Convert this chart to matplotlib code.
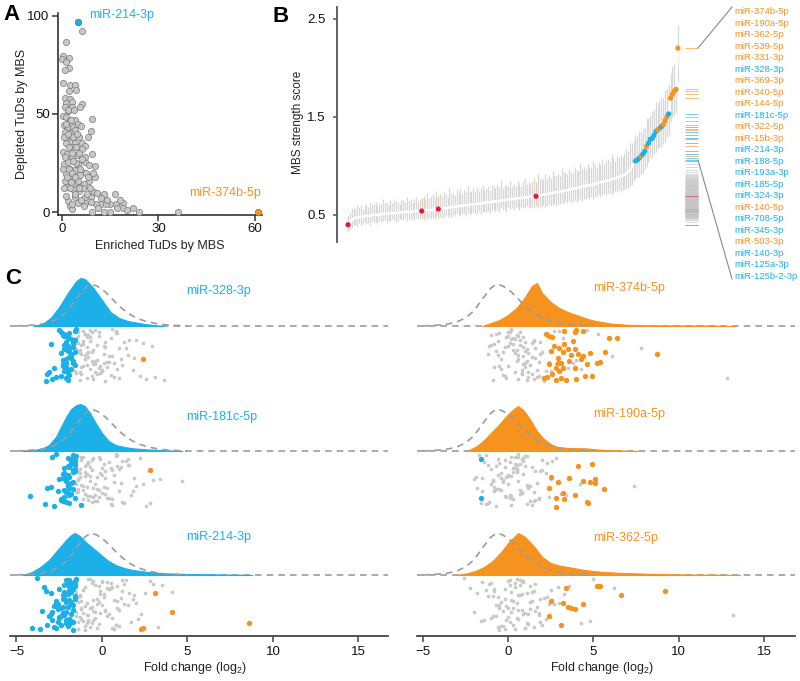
import numpy as np
import matplotlib
matplotlib.use("Agg")
import matplotlib.pyplot as plt
from matplotlib.lines import Line2D

plt.rcParams['font.family'] = ['Liberation Sans', 'DejaVu Sans']
plt.rcParams['mathtext.default'] = 'regular'

BLUE = '#1cb0e8'
ORANGE = '#f6921e'
RED = '#e3174a'
GREY = '#c9c9c9'
DARK = '#333333'
W, H = 800, 681

# ---------------- panel A : TuDs counted per miRNA ----------------
enriched = [6.2, 1.2, 0.3, 2.1, 0.0, 1.4, 2.1, 0.9, 0.3, 2.5,
            4.1, 4.3, 2.1, 0.9, 2.5, 1.4, 3.0, 6.2, 5.7, 3.0,
            0.9, 1.9, 0.3, 1.4, 2.5, 4.1, 9.2, 0.6, 1.9, 3.5,
            0.9, 2.8, 9.1, 4.6, 5.4, 8.1, 1.1, 2.5, 3.9, 6.2,
            7.3, 3.0, 0.3, 1.7, 4.6, 9.2, 3.2, 0.6, 1.9, 5.1,
            7.3, 8.4, 10.3, 2.5, 4.1, 6.2, 1.1, 3.5, 5.7, 10.3,
            8.4, 0.9, 2.8, 4.6, 6.8, 1.7, 3.5, 5.4, 10.0, 11.0,
            13.2, 16.4, 8.9, 7.3, 4.1, 1.9, 4.9, 7.1, 12.1, 14.8,
            16.9, 19.1, 2.5, 10.5, 13.7, 22.1, 3.2, 9.2, 13.2, 15.0,
            19.1, 23.9, 36.0,
            1.2, 2.1, 3.3, 4.2, 5.1, 6.3, 7.2, 0.8, 2.2, 3.1,
            4.3, 5.2, 6.1, 7.4, 8.2, 1.1, 2.9, 3.8, 1.8, 4.8,
            5.9, 0.5, 1.5, 2.6, 3.4, 4.4, 5.6, 6.6, 7.7, 8.6,
            9.6, 0.2, 0.5, 1.1, 3.1, 4.0, 5.0, 6.0, 1.9, 3.2,
            4.1, 5.3, 7.0, 9.1, 11.2, 12.0, 14.1, 17.1, 18.0, 20.2]
depleted = [92.4, 86.7, 79.8, 78.6, 77.8, 76.4, 73.3, 72.4, 65.7, 64.8,
            64.7, 62.2, 61.7, 58.3, 57.4, 55.7, 56.0, 55.3, 53.6, 53.6,
            53.6, 51.4, 49.1, 48.3, 47.1, 46.7, 47.4, 44.5, 43.3, 43.6,
            41.0, 40.2, 41.4, 39.3, 38.1, 38.4, 37.6, 35.9, 35.0, 35.3,
            33.6, 32.9, 30.7, 29.8, 29.0, 29.5, 28.1, 24.7, 25.5, 24.7,
            25.5, 23.8, 23.3, 22.1, 21.6, 20.3, 19.5, 18.6, 19.1, 17.8,
            16.0, 16.0, 15.2, 14.7, 14.3, 12.6, 11.7, 10.9, 10.0, 9.5,
            9.1, 9.1, 7.9, 7.4, 7.4, 5.7, 4.8, 4.8, 4.3, 4.0,
            4.3, 4.8, 3.1, 4.0, 4.3, 2.2, 1.4, 0.2, 0.2, 0.2,
            2.2, 0.2, 0.2,
            35, 33, 38, 42, 45, 32, 28, 28, 22, 20,
            25, 30, 27, 20, 18, 45, 47, 52, 52, 40,
            44, 38, 18, 12, 26, 33, 22, 12, 9, 12,
            20, 22, 12, 8, 4, 9, 16, 6, 40, 30,
            18, 12, 3, 5, 2, 7, 6, 2, 6, 1]
a_blue = (5.1, 97.0)      # miR-214-3p
a_orange = (61.0, 0.0)    # miR-374b-5p

# ---------------- panel B : MBS strength score per miRNA ----------------
mbs_median = [0.40, 0.43, 0.45, 0.46, 0.47, 0.47, 0.48, 0.48, 0.48, 0.49,
              0.49, 0.49, 0.49, 0.50, 0.50, 0.50, 0.50, 0.50, 0.51, 0.51,
              0.51, 0.51, 0.51, 0.52, 0.52, 0.52, 0.52, 0.52, 0.52, 0.53,
              0.53, 0.53, 0.53, 0.53, 0.53, 0.53, 0.54, 0.54, 0.54, 0.54,
              0.54, 0.54, 0.55, 0.55, 0.55, 0.55, 0.55, 0.56, 0.56, 0.56,
              0.56, 0.57, 0.57, 0.57, 0.57, 0.58, 0.58, 0.58, 0.58, 0.59,
              0.59, 0.59, 0.59, 0.60, 0.60, 0.60, 0.60, 0.61, 0.61, 0.61,
              0.61, 0.62, 0.62, 0.62, 0.62, 0.63, 0.63, 0.63, 0.63, 0.64,
              0.64, 0.64, 0.64, 0.65, 0.65, 0.65, 0.65, 0.66, 0.66, 0.66,
              0.66, 0.67, 0.67, 0.67, 0.67, 0.68, 0.68, 0.68, 0.68, 0.69,
              0.69, 0.69, 0.69, 0.70, 0.70, 0.70, 0.71, 0.71, 0.71, 0.72,
              0.72, 0.72, 0.73, 0.73, 0.73, 0.74, 0.74, 0.75, 0.75, 0.75,
              0.76, 0.76, 0.77, 0.77, 0.77, 0.78, 0.78, 0.79, 0.79, 0.80,
              0.80, 0.80, 0.81, 0.81, 0.82, 0.82, 0.83, 0.83, 0.84, 0.84,
              0.85, 0.85, 0.86, 0.86, 0.87, 0.87, 0.88, 0.89, 0.89, 0.90,
              0.91, 0.92, 0.94, 0.96, 0.99, 1.02,
              1.05, 1.06, 1.08, 1.10, 1.12, 1.15, 1.20, 1.23, 1.27, 1.28,
              1.31, 1.35, 1.37, 1.38, 1.40, 1.42, 1.46, 1.50, 1.53, 1.69,
              1.73, 1.76, 1.78, 2.20]
# whisker extents above / below the median, in hundredths
mbs_up = [9, 10, 12, 11, 9, 13, 10, 12, 8, 11, 12, 9, 14, 10, 11, 13, 9, 12, 10, 15,
          11, 12, 9, 13, 10, 14, 12, 11, 9, 13, 12, 10, 15, 11, 13, 9, 12, 14, 10, 12,
          13, 15, 11, 17, 12, 14, 16, 12, 18, 13, 15, 12, 17, 14, 11, 19, 13, 15, 12, 16,
          14, 18, 12, 15, 13, 20, 14, 12, 16, 13, 17, 12, 15, 19, 13, 14, 16, 12, 18, 15,
          13, 17, 14, 21, 12, 16, 15, 13, 19, 14, 16, 12, 18, 15, 13, 17, 20, 14, 16, 13,
          16, 19, 15, 22, 17, 18, 15, 21, 17, 19, 16, 23, 18, 17, 20, 16, 24, 18, 19, 17,
          21, 18, 16, 22, 19, 17, 25, 18, 20, 17, 22, 19, 18, 24, 20, 17, 21, 19, 23, 18,
          20, 22, 19, 26, 21, 18, 23, 20, 22, 19, 22, 25, 21, 27, 24, 23,
          26, 24, 28, 25, 27, 24, 29, 26, 25, 28, 27, 30, 26, 28, 29, 27, 31, 28, 30, 26,
          29, 28, 30, 24]
mbs_down = [6, 7, 8, 6, 7, 9, 6, 8, 7, 6, 8, 7, 9, 6, 8, 7, 9, 6, 8, 7,
            6, 9, 7, 8, 6, 7, 9, 8, 6, 7, 8, 6, 9, 7, 8, 6, 9, 7, 8, 7,
            8, 9, 7, 10, 8, 9, 8, 10, 7, 9, 8, 10, 9, 7, 9, 8, 10, 9, 8, 7,
            9, 10, 8, 9, 11, 8, 9, 10, 8, 9, 10, 8, 11, 9, 8, 10, 9, 11, 8, 9,
            10, 9, 11, 8, 10, 9, 12, 8, 10, 9, 11, 9, 10, 12, 9, 10, 11, 9, 10, 12,
            11, 12, 10, 13, 11, 12, 11, 13, 12, 11, 13, 12, 11, 14, 12, 13, 12, 14, 11, 13,
            12, 14, 13, 12, 14, 13, 12, 15, 13, 14, 12, 14, 13, 15, 13, 14, 12, 15, 14, 13,
            15, 13, 14, 16, 14, 13, 15, 14, 16, 15, 15, 16, 17, 16, 18, 17,
            18, 17, 19, 18, 19, 18, 20, 19, 18, 20, 19, 21, 20, 19, 21, 20, 22, 21, 22, 24,
            23, 25, 24, 34]
red_idx = [0, 40, 49, 102]
top_names = ['miR-374b-5p', 'miR-190a-5p', 'miR-362-5p', 'miR-539-5p', 'miR-331-3p',
             'miR-328-3p', 'miR-369-3p', 'miR-340-5p', 'miR-144-5p', 'miR-181c-5p',
             'miR-322-5p', 'miR-15b-3p', 'miR-214-3p', 'miR-188-5p', 'miR-193a-3p',
             'miR-185-5p', 'miR-324-3p', 'miR-140-5p', 'miR-708-5p', 'miR-345-3p',
             'miR-503-3p', 'miR-140-3p', 'miR-125a-3p', 'miR-125b-2-3p']
top_cats = ['o', 'o', 'o', 'o', 'o', 'b', 'o', 'o', 'o', 'b', 'o', 'o',
            'b', 'b', 'b', 'b', 'b', 'o', 'b', 'b', 'o', 'b', 'b', 'b']

# ---------------- panel C : fold change distributions ----------------
ref_x = [-5.0, -4.5, -4.0, -3.5, -3.0, -2.5, -2.0, -1.5, -1.0, -0.65, -0.3,
         0.2, 0.6, 1.0, 1.5, 2.0, 2.5, 3.0, 3.5, 4.0, 5.0]
ref_y = [0, 0.5, 1, 2, 4, 8, 15, 27, 38, 42, 40, 34, 27, 20, 13, 8, 5, 3, 1.5, 0.8, 0]

jit = [12, 41, 27, 6, 50, 33, 19, 45, 9, 37,
       24, 53, 15, 30, 4, 47, 21, 39, 10, 28,
       51, 17, 35, 8, 44, 26, 13, 49, 31, 5,
       40, 22, 54, 11, 36, 18, 46, 7, 29, 42,
       16, 52, 25, 3, 38, 20, 48, 14, 34, 9,
       43, 23, 55, 6, 32, 18, 47, 12, 27, 39,
       4, 50, 21, 36, 10, 45, 29, 15, 53, 8,
       41, 24, 33, 19, 51, 6, 37, 26, 44, 13,
       30, 48, 17, 40, 7, 35, 22, 54, 11, 28,
       46, 14, 38, 5, 25, 52, 20, 43, 16, 33]
cjit = [8, 30, 47, 15, 38, 22, 52, 5, 27, 43,
        12, 35, 19, 49, 26, 9, 41, 32, 54, 17,
        45, 4, 24, 37, 14, 50, 29, 11, 40, 21,
        53, 7, 33, 46, 18, 28, 55, 10, 36, 25,
        42, 6, 31, 48, 16, 39, 20, 51, 13, 34,
        3, 44, 23, 37, 11, 50, 27, 8, 41, 19,
        47, 14, 32, 5, 39, 24, 53, 17, 29, 45]

# miR-328-3p
m328_cx = [-4.0, -3.5, -3.0, -2.5, -2.0, -1.5, -1.25, -1.0, -0.5, 0.0, 0.5, 1.0, 1.5, 2.0, 2.5, 3.0, 3.6]
m328_cy = [0, 2, 8, 19, 33, 45, 48, 47, 38, 26, 14, 8, 5, 3.5, 2, 1, 0]
m328_grey = [-1.5, -1.2, -0.9, -1.4, -0.6, -1.0, -0.3, -1.6, -0.8, 0.1,
             -1.3, -0.5, -1.1, 0.4, -0.7, -1.5, 0.2, -0.9, -0.2, -1.2,
             0.7, -1.4, -0.4, -1.0, 0.0, -0.6, -1.5, 0.5, -0.8, -1.1,
             -0.1, 1.0, -1.3, -0.7, 0.3, -1.6, -0.4, 0.8, -1.0, -0.2,
             1.3, -0.9, -1.4, 0.6, -0.5, 0.1, -1.2, 1.6, -0.3, -0.8,
             0.9, -1.5, 0.2, -0.6, 1.9, -1.1, -0.1, 0.5, -1.3, 1.2,
             -0.4, 2.2, -0.9, 0.4, -1.4, 0.0, 1.5, -0.7, 2.6, -1.0,
             0.3, -0.5, 1.1, -1.2, 3.1, -0.2, 0.7, -0.8, 1.8, -1.5,
             0.6, -0.3, 2.4, -1.1, 0.9, -0.6, 1.4, 3.6, -0.9, 0.1,
             -1.3, 2.0, -0.4, 0.8, -1.6, 1.0, 2.9, -0.7, 0.2, -1.0]
m328_blue = [-2.2, -1.8, -2.0, -1.7, -2.3, -1.9, -2.1, -1.6, -2.4, -1.8,
             -2.0, -1.7, -2.2, -1.9, -1.6, -2.3, -2.1, -1.8, -2.0, -1.7,
             -2.2, -2.5, -1.9, -2.1, -1.6, -2.4, -1.8, -2.0, -2.3, -1.7,
             -2.9, -1.9, -2.1, -3.1, -3.0, -1.8, -3.3, -2.2, -1.7, -2.0,
             -2.8, -2.4, -1.9, -3.2, -2.1, -1.6, -2.0, -2.7, -1.8, -2.3,
             -1.5, -1.9, -2.2, -1.7, -2.0]
m328_orange = [2.4]
m328_orange_j = [33]

# miR-181c-5p
m181_cx = [-4.6, -4.0, -3.5, -3.1, -2.7, -2.4, -2.1, -1.8, -1.5, -1.28, -1.0,
           -0.7, -0.37, 0.0, 0.4, 0.8, 1.3, 1.8, 2.75, 3.7, 4.7]
m181_cy = [0, 1, 2.5, 6, 14, 24, 34, 42, 46, 47, 45, 38, 28, 18, 10, 6, 4, 2.7, 1.5, 0.7, 0]
m181_grey = [-0.8, -1.4, 0.2, -1.1, -0.3, -1.5, 0.6, -0.9, -1.2, -0.5,
             0.0, -1.3, 0.9, -0.7, -1.5, 0.3, -1.0, -0.2, 1.2, -1.4,
             -0.6, 0.5, -1.1, 1.5, -0.4, -1.3, 0.1, -0.8, 0.7, -1.5,
             1.8, -0.1, -1.2, 0.4, -0.9, 1.0, -0.5, 2.2, -1.4, 0.0,
             -0.7, 1.3, -1.0, 0.8, -0.3, -1.5, 0.6, 1.6, -1.2, -0.6,
             0.2, -0.9, 2.6, -0.2, 1.1, -1.3, 0.4, -0.8, 1.9, -1.1,
             0.9, -0.4, -1.4, 0.1, 1.4, -0.7, 3.0, -1.0, 0.5, -0.1,
             -1.5, 0.7, 2.4, -0.6, 1.2, -1.2, 0.3, -0.3, 1.7, -0.9,
             4.7, -1.1, 0.0, 1.0, -0.5, 2.0, -1.3, 0.6, -0.8, 3.4,
             -0.2, 1.5, -1.4, 0.8, -0.7, 2.8, 0.2, -1.0, 1.1, -0.4]
m181_blue = [-1.8, -2.1, -1.6, -2.0, -1.7, -2.2, -1.9, -1.5, -2.3, -1.8,
             -1.6, -2.0, -1.7, -2.4, -1.9, -1.6, -2.1, -1.8, -1.25, -2.2,
             -4.2, -1.7, -2.0, -1.9, -1.6, -2.3, -2.1, -1.8, -2.6, -1.7,
             -3.35, -2.0, -1.9, -2.2, -1.6, -2.5, -2.8, -1.8, -3.0, -2.1,
             -2.0, -2.9, -1.7, -2.4, -1.9, -2.2, -1.6, -2.1, -1.8, -2.0,
             -2.7, -1.9, -2.3, -3.2, -1.7]
m181_orange = [2.8]
m181_orange_j = [19]

# miR-214-3p
m214_cx = [-4.6, -4.1, -3.6, -3.1, -2.6, -2.1, -1.8, -1.58, -1.3, -0.95, -0.6,
           -0.18, 0.3, 0.8, 1.3, 1.8, 2.7, 3.7, 5.0, 7.0, 8.8]
m214_cy = [0, 3, 8, 15, 25, 35, 40, 42, 39, 33, 28, 22, 15, 10, 7, 5, 3, 1.7, 1, 0.5, 0]
m214_grey = [-1.0, 0.3, -1.4, -0.5, 0.8, -1.2, -0.1, -0.8, 1.3, -1.5,
             -0.3, 0.6, -1.1, 0.0, -0.7, 1.7, -1.3, 0.4, -0.4, -0.9,
             1.0, -1.5, 0.2, -0.6, 2.1, -1.2, 0.5, -0.2, -1.0, 1.4,
             -0.8, 0.1, -1.4, 0.9, -0.5, 2.5, -1.1, 0.3, -0.3, -1.3,
             1.2, -0.7, 0.7, -1.5, -0.1, 1.9, -0.9, 0.4, -1.2, 3.0,
             -0.4, 1.1, -1.0, 0.0, -0.6, 1.6, -1.4, 0.6, -0.2, 2.3,
             -0.8, 0.8, -1.3, 0.2, 3.5, -0.5, 1.3, -1.1, -0.3, 0.5,
             -1.5, 1.8, -0.7, 0.1, -1.0, 2.8, -0.4, 0.9, -1.2, 0.3,
             1.5, -0.6, 4.1, -0.9, 0.0, 1.0, -1.4, 0.7, -0.2, 2.0,
             -0.8, 0.4, -1.1, 1.2, -0.5, 3.3, -1.3, 0.6, -0.1, 0.9]
m214_blue = [-2.0, -1.7, -2.6, -1.9, -2.3, -1.6, -2.8, -2.1, -1.8, -2.5,
             -3.4, -1.7, -2.2, -1.9, -2.7, -1.6, -2.4, -2.0, -3.6, -1.8,
             -2.9, -1.5, -2.3, -2.1, -1.7, -3.2, -2.6, -1.9, -2.2, -1.6,
             -4.1, -2.0, -2.4, -1.8, -3.0, -2.7, -1.7, -2.2, -3.5, -1.9,
             -2.5, -1.6, -2.8, -2.1, -3.3, -1.8, -2.3, -2.0, -1.7, -2.6,
             -3.8, -1.9, -2.2, -2.9, -1.6, -2.4, -2.1, -1.8, -3.1, -2.0,
             -1.7, -2.5, -2.3, -1.9, -3.0, -1.6, -2.7, -2.2, -1.8, -2.1]
m214_orange = [3.1, 4.1, 8.6, 2.3, 2.4]
m214_orange_j = [18, 37, 48, 54, 53]

# miR-374b-5p
m374_cx = [-1.5, -1.0, -0.5, 0.0, 0.5, 1.0, 1.4, 1.7, 2.0, 2.5, 3.0, 3.5, 4.0,
           4.5, 5.0, 5.5, 6.0, 7.0, 8.0, 10.0, 12.0, 13.3]
m374_cy = [0, 3, 6, 11, 18, 29, 40, 43, 33, 24, 18, 14, 11, 8, 5.5, 4, 2.5, 1.2, 0.7, 0.5, 0.4, 0]
m374_grey = [0.3, -0.8, 1.2, 0.0, 1.8, -0.4, 0.7, 2.2, -1.0, 1.0,
             0.5, 1.5, -0.6, 0.9, 0.2, 2.6, -0.2, 1.3, 0.6, -1.2,
             1.7, 0.1, 1.1, -0.7, 0.8, 2.0, 0.4, -0.3, 1.4, 3.0,
             0.0, 1.6, -0.9, 0.9, 2.4, 0.3, 1.2, -0.5, 0.6, 3.5,
             1.9, -0.1, 1.0, 0.2, 2.8, -1.1, 1.4, 0.7, 4.0, 0.5,
             -0.4, 1.1, 2.1, 0.1, 1.6, -0.8, 0.8, 3.2, 0.4, 1.3,
             4.6, -0.2, 0.9, 1.8, 0.0, 2.5, -0.6, 1.5, 0.6, 5.3,
             1.0, 0.3, 2.9, -1.0, 1.2, 0.7, 3.8, -0.3, 1.7, 0.2,
             6.1, 0.8, 1.4, -0.5, 2.3, 0.5, 7.8, 1.1, -0.1, 1.9,
             0.4, 1.5, 0.9, 2.7, -0.7, 12.8, 0.0, 4.3, 1.0, 0.6]
m374_orange = [2.2, 2.4, 2.6, 3.3, 4.0, 4.4, 5.9, 6.4,
               2.5, 3.0, 3.3, 3.2, 3.5, 3.8, 3.9, 4.1, 4.4, 4.8, 5.7, 8.7,
               2.9, 3.1, 3.6, 4.3, 4.6, 5.2, 5.4,
               2.4, 2.8, 3.0, 3.2, 3.9,
               2.1, 2.3, 2.8, 3.1, 3.4, 4.0, 4.5, 4.9,
               2.6, 2.9, 3.7, 2.7, 3.9]
m374_orange_j = [8, 10, 11, 5, 4, 5, 12, 12,
                 25, 22, 18, 26, 23, 15, 23, 28, 30, 27, 26, 28,
                 32, 37, 35, 33, 38, 37, 36,
                 38, 42, 45, 42, 42,
                 52, 51, 54, 52, 54, 53, 50, 50,
                 48, 37, 29, 20, 6]

# miR-190a-5p
m190_cx = [-2.4, -1.8, -1.4, -1.0, -0.6, -0.2, 0.2, 0.58, 0.9, 1.35, 1.7, 2.1,
           2.5, 2.9, 3.5, 4.5, 5.4, 6.4, 7.6]
m190_cy = [0, 5, 11, 18, 25, 33, 40, 45, 41, 30, 20, 12, 7, 4, 3, 2.7, 1.3, 0.6, 0]
m190_grey = [-0.5, 0.8, -1.5, 0.2, 1.5, -1.0, 0.5, -0.2, 2.0, -1.8,
             0.0, 1.1, -0.7, 0.6, -1.3, 1.8, 0.3, -0.4, 0.9, 2.5,
             -1.1, 0.4, 1.3, -0.6, 0.1, -1.9, 0.7, 1.6, -0.3, 1.0,
             -0.8, 2.2, 0.2, -1.4, 1.2, 0.5, -0.1, 2.8, -0.9, 0.8,
             1.4, -1.6, 0.0, 0.6, -0.5, 1.9, 0.3, -1.2, 1.1, -0.2,
             3.1, 0.9, -0.7, 0.4, 1.7, -1.0, 0.1, 2.3, -0.4, 0.7,
             -1.7, 1.3, 0.5, -0.8, 2.6, 0.2, -0.3, 1.0, -1.3, 0.8,
             1.5, -0.6, 0.0, 2.0, -1.1, 0.6, 1.2, -0.1, 3.4, 0.4,
             -0.9, 1.8, 0.3, -1.5, 0.9, 7.4, -0.4, 1.4, 0.1, -2.0,
             2.4, 0.5, -0.7, 1.1, 0.2, -1.2, 1.6, 0.7, -0.2, 4.2]
m190_orange = [2.5, 2.4, 2.9, 3.6, 4.1, 4.9, 4.4, 4.8, 5.1, 5.1, 5.6,
               2.8, 3.2, 3.3, 3.9, 4.6, 4.7, 2.8]
m190_orange_j = [26, 37, 31, 27, 15, 13, 30, 31, 28, 32, 38,
                 47, 42, 48, 44, 51, 52, 56]
m190_blue = [-1.6, -1.6]
m190_blue_j = [8, 47]

# miR-362-5p
m362_cx = [-3.05, -2.4, -1.9, -1.4, -0.9, -0.4, 0.1, 0.6, 1.0, 1.55, 2.0, 2.5,
           3.0, 3.5, 4.5, 5.4, 6.5, 7.4, 9.0, 11.0, 13.6]
m362_cy = [0, 1.7, 4, 8, 14, 23, 34, 42, 38, 28, 18, 12, 9.5, 8, 5, 3.3, 2.2, 1.7, 0.8, 0.4, 0]
m362_grey = [0.4, -0.9, 1.3, 0.0, 2.0, -0.5, 0.8, -1.4, 1.6, 0.2,
             -0.2, 1.0, 2.5, -0.7, 0.5, 1.9, -1.2, 0.9, 0.1, 3.0,
             -0.4, 1.4, 0.6, -1.0, 2.2, 0.3, -2.2, 1.2, -0.1, 0.7,
             1.8, -0.6, 0.4, 3.6, -0.3, 1.1, -1.6, 0.9, 2.7, 0.0,
             -0.8, 1.5, 0.2, -2.6, 1.0, 0.6, 4.3, -0.2, 1.3, -1.1,
             0.5, 2.1, -0.5, 0.8, 1.7, -1.8, 0.1, 2.9, -0.4, 1.2,
             5.0, 0.3, -0.9, 1.6, 0.7, -0.1, 2.4, -1.3, 1.0, 0.4,
             -0.7, 1.9, 0.0, 3.3, -0.3, 0.9, -2.0, 1.4, 0.6, 6.2,
             -0.5, 1.1, 0.2, 13.2, -1.5, 0.8, 2.3, -0.2, 1.3, 0.5,
             4.8, -0.8, 1.8, 0.1, 2.6, -0.6, 0.7, -1.0, 1.5, 0.3]
m362_orange = [5.2, 5.4, 6.6, 9.2, 3.4, 2.5, 3.2, 3.5, 3.7, 3.9, 4.4, 2.4, 3.1]
m362_orange_j = [11, 11, 20, 16, 13, 26, 28, 32, 33, 34, 29, 41, 50]


def box(l, t, r, b):
    # pixel box (left, top, right, bottom) -> figure fraction rect
    return [l / W, 1 - b / H, (r - l) / W, (b - t) / H]


fig = plt.figure(figsize=(8, 6.81), dpi=100)
fig.patch.set_facecolor('white')

# ---------------- A ----------------
axA = fig.add_axes(box(58, 13, 262, 215))
axA.scatter(enriched, depleted, s=20, c='#c8c8c8', edgecolors='#7a7a7a', linewidths=0.5, zorder=3)
axA.scatter([a_blue[0]], [a_blue[1]], s=22, c=BLUE, edgecolors='#1580b0', linewidths=0.5, zorder=4)
axA.scatter([a_orange[0]], [a_orange[1]], s=22, c=ORANGE, edgecolors='#b86a10', linewidths=0.5,
            zorder=4, clip_on=False)
axA.set_xlim(-1.24, 62.2)
axA.set_ylim(-1.53, 101.5)
axA.set_xticks([0, 30, 60])
axA.set_yticks([0, 50, 100])
for s in ['top', 'right']:
    axA.spines[s].set_visible(False)
for s in ['left', 'bottom']:
    axA.spines[s].set_color(DARK)
    axA.spines[s].set_linewidth(1.2)
axA.tick_params(axis='x', length=4, width=1.1, color=DARK, labelsize=9.5, pad=1.5, labelcolor='#111')
axA.tick_params(axis='y', length=4, width=1.1, color=DARK, labelsize=9.5, pad=2, labelcolor='#111')
axA.set_xlabel('Enriched TuDs by MBS', fontsize=9, color='#222')
axA.xaxis.set_label_coords(0.5, -0.122)
axA.set_ylabel('Depleted TuDs by MBS', fontsize=9, color='#222')
axA.yaxis.set_label_coords(-0.147, 0.5)
axA.text(8.4, 100.5, 'miR-214-3p', color=BLUE, fontsize=9, va='center')
axA.text(39.5, 9.7, 'miR-374b-5p', color=ORANGE, fontsize=9, va='center')

# ---------------- B ----------------
axB = fig.add_axes(box(337, 7, 700, 242))
med = np.array(mbs_median)
n = len(med)
idx = np.arange(n)
hi = med + np.array(mbs_up) / 100
lo = med - np.array(mbs_down) / 100
cats = ['g'] * n
for i in red_idx:
    cats[i] = 'r'
for k, c in enumerate(reversed(top_cats)):
    cats[n - len(top_cats) + k] = c
bar_cols = ['#e8cca8' if c == 'r' else '#d8d8d8' for c in cats]
axB.vlines(idx, lo, hi, colors=bar_cols, lw=0.9, zorder=1)
axB.plot(idx, med, color='white', lw=1.8, zorder=2)
pt_col = {'r': RED, 'b': BLUE, 'o': ORANGE}
sel = [i for i in range(n) if cats[i] != 'g']
axB.scatter(idx[sel], med[sel], s=14, c=[pt_col[cats[i]] for i in sel], lw=0, zorder=3)
rug_col = {'g': '#c4c4c4', 'r': '#c8405e', 'b': BLUE, 'o': ORANGE}
axB.hlines(med, 182.9, 189.9, colors=[rug_col[c] for c in cats], lw=0.55, clip_on=False,
           alpha=0.8, zorder=2)
axB.set_xlim(-5.97, 191)
axB.set_ylim(0.224, 2.62)
axB.set_xticks([])
axB.set_yticks([0.5, 1.5, 2.5])
axB.set_yticklabels(['0.5', '1.5', '2.5'])
for s in ['top', 'right', 'bottom']:
    axB.spines[s].set_visible(False)
axB.spines['left'].set_color('#555555')
axB.spines['left'].set_linewidth(1.3)
axB.tick_params(axis='y', length=3, width=1.1, color='#555555', labelsize=9.5, pad=5, labelcolor='#111')
axB.set_ylabel('MBS strength score', fontsize=8.5, color='#222')
axB.yaxis.set_label_coords(-0.091, 0.51)

# labels for the 24 strongest miRNAs and connector lines
for k, (name, c) in enumerate(zip(top_names, top_cats)):
    fig.text(734 / W, 1 - (12 + k * 11.48) / H, name, color=pt_col[c], fontsize=6.8, va='center')
fig.add_artist(Line2D([698 / W, 732 / W], [1 - 48 / H, 1 - 7 / H], color='#8a8a8a', lw=0.8))
fig.add_artist(Line2D([698 / W, 732 / W], [1 - 160 / H, 1 - 279 / H], color='#8a8a8a', lw=0.8))

# ---------------- C ----------------
panels = [
    dict(col=0, row=0, name='miR-328-3p', colour=BLUE, cx=m328_cx, cy=m328_cy, grey=m328_grey,
         blue=m328_blue, blue_j=cjit[:len(m328_blue)], orange=m328_orange, orange_j=m328_orange_j, ly=35),
    dict(col=0, row=1, name='miR-181c-5p', colour=BLUE, cx=m181_cx, cy=m181_cy, grey=m181_grey,
         blue=m181_blue, blue_j=cjit[:len(m181_blue)], orange=m181_orange, orange_j=m181_orange_j, ly=34),
    dict(col=0, row=2, name='miR-214-3p', colour=BLUE, cx=m214_cx, cy=m214_cy, grey=m214_grey,
         blue=m214_blue, blue_j=cjit[:len(m214_blue)], orange=m214_orange, orange_j=m214_orange_j, ly=38),
    dict(col=1, row=0, name='miR-374b-5p', colour=ORANGE, cx=m374_cx, cy=m374_cy, grey=m374_grey,
         blue=[], blue_j=[], orange=m374_orange, orange_j=m374_orange_j, ly=38),
    dict(col=1, row=1, name='miR-190a-5p', colour=ORANGE, cx=m190_cx, cy=m190_cy, grey=m190_grey,
         blue=m190_blue, blue_j=m190_blue_j, orange=m190_orange, orange_j=m190_orange_j, ly=37),
    dict(col=1, row=2, name='miR-362-5p', colour=ORANGE, cx=m362_cx, cy=m362_cy, grey=m362_grey,
         blue=[], blue_j=[], orange=m362_orange, orange_j=m362_orange_j, ly=37),
]
baselines = [326, 451, 575]
col_px = [(10, 388), (417, 795)]
col_xlim = [(-5.38, 16.73), (-5.33, 16.81)]

for p in panels:
    l, r = col_px[p['col']]
    b = baselines[p['row']]
    ax = fig.add_axes(box(l, b - 64, r, b + 61))
    ax.patch.set_alpha(0)
    ax.set_xlim(*col_xlim[p['col']])
    ax.set_ylim(-61, 64)
    ax.axhline(0, color='#9c9c9c', lw=1.2, ls=(0, (4, 3)), zorder=1)
    ax.fill_between(p['cx'], 0, p['cy'], color=p['colour'], lw=0.8, edgecolor=p['colour'], zorder=2)
    ax.plot(ref_x, ref_y, color='#9c9c9c', lw=1.2, ls=(0, (4, 3)), zorder=3)
    ax.scatter(p['grey'], -np.array(jit[:len(p['grey'])]), s=7, c=GREY, lw=0, zorder=2)
    if p['blue']:
        ax.scatter(p['blue'], -np.array(p['blue_j']), s=15, c=BLUE, lw=0, zorder=4)
    ax.scatter(p['orange'], -np.array(p['orange_j']), s=15, c=ORANGE, lw=0, zorder=4)
    ax.text(4.9 if p['col'] == 0 else 5.0, p['ly'], p['name'], color=p['colour'], fontsize=9, va='center')
    for s in ['top', 'right', 'left']:
        ax.spines[s].set_visible(False)
    ax.set_yticks([])
    if p['row'] == 2:
        ax.spines['bottom'].set_color('#444444')
        ax.spines['bottom'].set_linewidth(1.3)
        ax.set_xticks([-5, 0, 5, 10, 15])
        ax.tick_params(axis='x', length=4, width=1.1, color='#444444', labelsize=9.5, pad=3, labelcolor='#111')
        ax.set_xlabel('Fold change (log$_2$)', fontsize=9, color='#222')
        ax.xaxis.set_label_coords(0.49, -0.19)
    else:
        ax.spines['bottom'].set_visible(False)
        ax.set_xticks([])

# panel letters
fig.text(12 / W, 1 - 15 / H, 'A', fontsize=16, fontweight='bold', ha='center', va='center')
fig.text(281 / W, 1 - 16 / H, 'B', fontsize=16, fontweight='bold', ha='center', va='center')
fig.text(13 / W, 1 - 278 / H, 'C', fontsize=16, fontweight='bold', ha='center', va='center')

fig.savefig('out.png', dpi=100)
